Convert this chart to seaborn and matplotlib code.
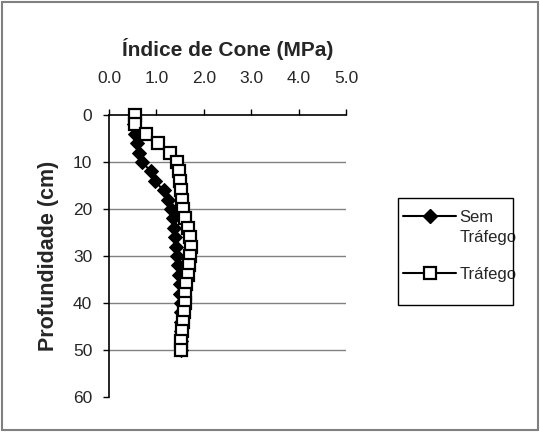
import matplotlib
matplotlib.use("Agg")
import matplotlib.pyplot as plt
import seaborn as sns
import pandas as pd
from matplotlib.patches import Rectangle
from matplotlib.lines import Line2D

sns.set_style("white")
plt.rcParams['font.family'] = ['Liberation Sans', 'DejaVu Sans']

depth_trafego = [0, 2, 4, 6, 8, 10, 12, 14, 16, 18, 20, 22, 24, 26, 28, 30, 32, 34, 36, 38, 40, 42, 44, 46, 48, 50]
trafego = [0.55, 0.55, 0.79, 1.04, 1.28, 1.43, 1.47, 1.49, 1.51, 1.53, 1.56, 1.60, 1.66, 1.70, 1.72, 1.70,
           1.68, 1.66, 1.63, 1.61, 1.60, 1.58, 1.56, 1.53, 1.52, 1.52]
depth_sem = [2, 4, 6, 8, 10, 12, 14, 16, 18, 20, 22, 24, 26, 28, 30, 32, 34, 36, 38, 40, 42, 44, 46, 48, 50]
sem_trafego = [0.52, 0.55, 0.60, 0.64, 0.70, 0.88, 0.96, 1.15, 1.25, 1.30, 1.36, 1.38, 1.40, 1.42, 1.44,
               1.46, 1.48, 1.50, 1.50, 1.52, 1.52, 1.52, 1.52, 1.52, 1.52]
x_ticks = [0.0, 1.0, 2.0, 3.0, 4.0, 5.0]
y_ticks = [0, 10, 20, 30, 40, 50, 60]

fig = plt.figure(figsize=(5.4, 4.32), dpi=100)
ax = fig.add_axes([109/540, 1-397/432, (346-109)/540, (397-115)/432])

df_sem = pd.DataFrame({"x": sem_trafego, "y": depth_sem})
df_tra = pd.DataFrame({"x": trafego, "y": depth_trafego})

sns.lineplot(data=df_sem, x="x", y="y", sort=False, estimator=None, orient="y", ax=ax,
             color="black", lw=1.5, marker="D", markersize=7, markerfacecolor="black",
             markeredgecolor="black", zorder=3, clip_on=False)
sns.lineplot(data=df_tra, x="x", y="y", sort=False, estimator=None, orient="y", ax=ax,
             color="black", lw=1.5, marker="s", markersize=8.5, markerfacecolor="white",
             markeredgecolor="black", markeredgewidth=1.6, zorder=4, clip_on=False)

ax.set_xlim(0, 5)
ax.set_ylim(60, 0)
ax.set_xticks(x_ticks)
ax.set_xticklabels([f"{v:.1f}" for v in x_ticks], fontsize=12.5)
ax.set_yticks(y_ticks)
ax.set_yticklabels([str(v) for v in y_ticks], fontsize=12.5)
ax.xaxis.tick_top()
ax.xaxis.set_label_position("top")
ax.tick_params(axis="x", direction="out", length=4, width=1, color="black", pad=17)
ax.tick_params(axis="y", direction="out", length=4, width=1, color="black", pad=8)
ax.tick_params(left=True, top=True, bottom=False)

for yv in [10, 20, 30, 40, 50]:
    ax.axhline(yv, color="#808080", lw=1, zorder=1)

for s in ["right", "bottom"]:
    ax.spines[s].set_visible(False)
ax.spines["left"].set_color("black")
ax.spines["left"].set_linewidth(1.2)
ax.spines["top"].set_color("black")
ax.spines["top"].set_linewidth(1.2)

ax.set_xlabel("Índice de Cone (MPa)", fontsize=15, fontweight="bold", labelpad=11)
ax.set_ylabel("Profundidade (cm)", fontsize=15.5, fontweight="bold", labelpad=10)

h_sem = Line2D([], [], color="black", lw=1.5, marker="D", markersize=7,
               markerfacecolor="black", markeredgecolor="black")
h_blank = Line2D([], [], color="none", lw=0)
h_tra = Line2D([], [], color="black", lw=1.5, marker="s", markersize=8.5,
               markerfacecolor="white", markeredgecolor="black", markeredgewidth=1.6)
leg = ax.legend([h_sem, h_blank, h_tra], ["Sem", "Tráfego\n", "Tráfego"],
                loc="upper left", bbox_to_anchor=(403/540, 1-210/432), bbox_transform=fig.transFigure,
                frameon=False, fontsize=12, handlelength=3.2, borderpad=0,
                labelspacing=0.28, handletextpad=0.2, borderaxespad=0)

fig.patches.append(Rectangle((398/540, 1-305/432), 115/540, 107/432, transform=fig.transFigure,
                             fill=False, edgecolor="black", lw=1))
fig.patches.append(Rectangle((2/540, 2/432), 536/540, 428/432, transform=fig.transFigure,
                             fill=False, edgecolor="#808080", lw=1.5))

fig.savefig("out.png", dpi=100)
